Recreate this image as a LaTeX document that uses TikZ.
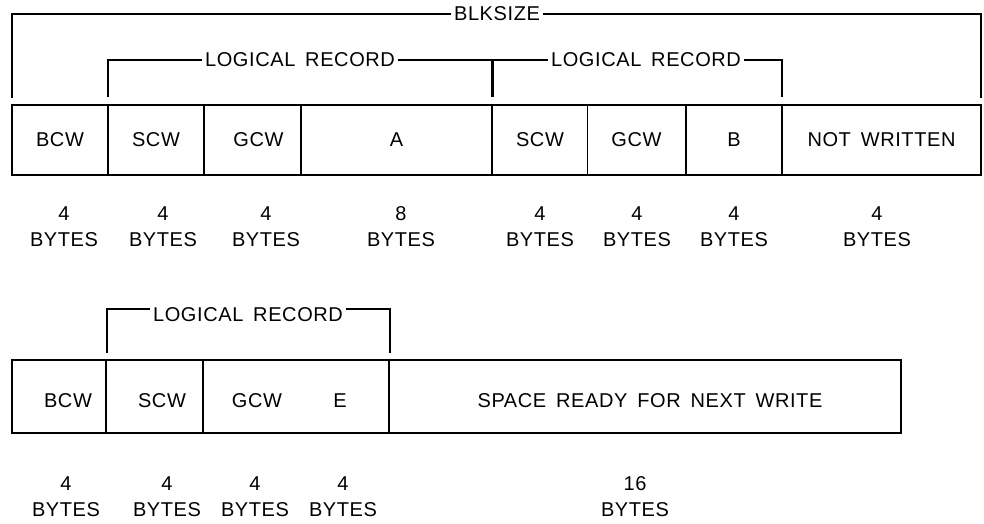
\documentclass[tikz,border=0pt]{standalone}
\usepackage{fontspec}
\setmainfont{Liberation Sans}[LetterSpace=3,WordSpace=1.6]
\begin{document}
\begin{tikzpicture}[x=1pt,y=-1pt,
  every node/.style={font=\fontsize{20}{26}\selectfont},
  cell/.style={draw, line width=1.5pt, minimum height=70pt, inner sep=0pt},
  bracket/.style={line width=1.5pt},
  lbl/.style={inner sep=3pt},
  bytes/.style={align=center, inner sep=0pt}]
\useasboundingbox (0,0) rectangle (984,523);
% ---- top row cells
\node[cell, minimum width=96pt]  (bcw1) at (60,140) {BCW};
\node[cell, minimum width=96pt]  (scw1) at (156,140) {SCW};
\node[cell, minimum width=97pt]  (gcw1) at (252.5,140) {\hspace{12pt}GCW};
\node[cell, minimum width=191pt] (a)    at (396.5,140) {A};
\node[cell, minimum width=95pt]  (scw2) at (540,140) {SCW};
\node[cell, minimum width=98pt]  (gcw2) at (636.5,140) {GCW};
\node[cell, minimum width=96pt]  (b)    at (734,140) {B};
\node[cell, minimum width=199pt] (nw)   at (881.5,140) {NOT WRITTEN};
% ---- BLKSIZE bracket
\node[lbl] (blk) at (497,14) {BLKSIZE};
\coordinate (blkL) at (12,98);
\coordinate (blkR) at (981,98);
\draw[bracket] (blkL) |- (blk.west);
\draw[bracket] (blk.east) -| (blkR);
% ---- logical record brackets (top)
\node[lbl] (lr1) at (300,60) {LOGICAL RECORD};
\coordinate (lr1L) at (108,97);
\coordinate (lr1R) at (492,97);
\draw[bracket] (lr1L) |- (lr1.west);
\draw[bracket] (lr1.east) -| (lr1R);
\node[lbl] (lr2) at (646,60) {LOGICAL RECORD};
\coordinate (lr2L) at (493,97);
\coordinate (lr2R) at (782,97);
\draw[bracket] (lr2L) |- (lr2.west);
\draw[bracket] (lr2.east) -| (lr2R);
% ---- top byte labels
\node[bytes] (t1) at (64,227) {4\\BYTES};
\node[bytes] (t2) at (163,227) {4\\BYTES};
\node[bytes] (t3) at (266,227) {4\\BYTES};
\node[bytes] (t4) at (401,227) {8\\BYTES};
\node[bytes] (t5) at (540,227) {4\\BYTES};
\node[bytes] (t6) at (637,227) {4\\BYTES};
\node[bytes] (t7) at (734,227) {4\\BYTES};
\node[bytes] (t8) at (877,227) {4\\BYTES};
% ---- bottom row cells
\node[cell, minimum width=94pt, minimum height=73pt]  (bcw3) at (59,396.5) {};
\node[cell, minimum width=97pt, minimum height=73pt]  (scw3) at (154.5,396.5) {};
\node[cell, minimum width=186pt, minimum height=73pt] (ge)   at (296,396.5) {};
\node[cell, minimum width=512pt, minimum height=73pt] (space) at (645,396.5) {};
\node (bcw3t) at (68,401) {BCW};
\node (scw3t) at (162,401) {SCW};
\node (gcw3) at (257,401) {GCW};
\node (e) at (340,401) {E};
\node (spacet) at (650,401) {SPACE READY FOR NEXT WRITE};
% ---- bottom logical record bracket
\node[lbl] (lr3) at (248,315) {LOGICAL RECORD};
\coordinate (lr3L) at (107,353);
\coordinate (lr3R) at (390,353);
\draw[bracket] (lr3L) -- (107,309) -- (lr3.west |- 0,309);
\draw[bracket] (lr3.east |- 0,309) -- (390,309) -- (lr3R);
% ---- bottom byte labels
\node[bytes] (u1) at (66,497) {4\\BYTES};
\node[bytes] (u2) at (167,497) {4\\BYTES};
\node[bytes] (u3) at (255,497) {4\\BYTES};
\node[bytes] (u4) at (343,497) {4\\BYTES};
\node[bytes] (u5) at (635,497) {16\\BYTES};
\end{tikzpicture}
\end{document}
